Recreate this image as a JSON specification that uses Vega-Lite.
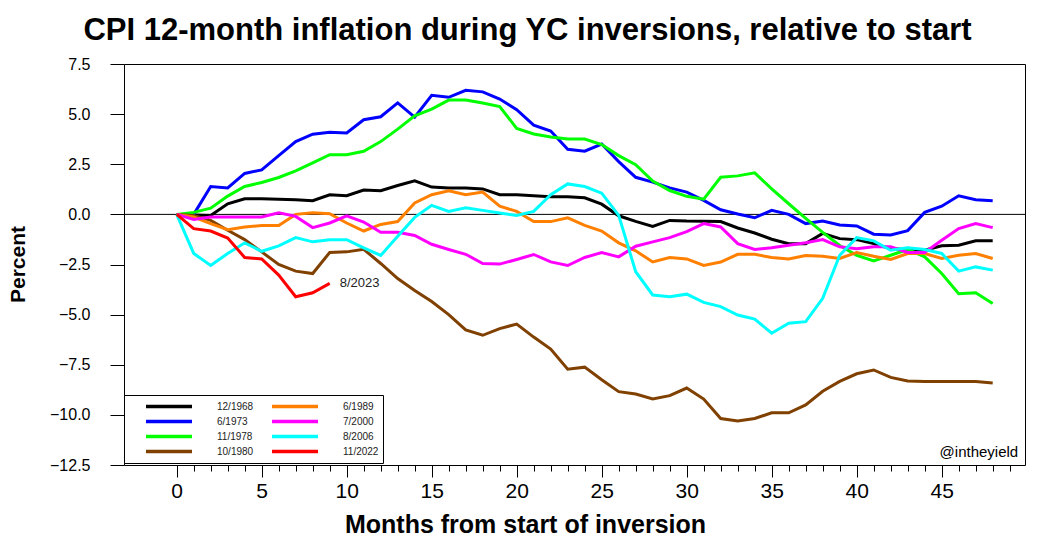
{
  "$schema": "https://vega.github.io/schema/vega-lite/v6.json",
  "width": 901,
  "height": 401,
  "autosize": {"type": "none"},
  "padding": {"left": 124, "top": 64, "right": 29, "bottom": 82},
  "background": "white",
  "config": {
    "font": "Liberation Sans",
    "view": {"stroke": "black", "strokeWidth": 1}
  },
  "title": {
    "text": "CPI 12-month inflation during YC inversions, relative to start",
    "font": "Liberation Sans",
    "fontSize": 31,
    "fontWeight": "bold",
    "color": "black",
    "anchor": "middle",
    "dx": -47,
    "baseline": "alphabetic",
    "offset": -15
  },
  "datasets": {
    "cpi": [
      {"s":"12/1968","m":0,"v":0},{"s":"12/1968","m":1,"v":-0.03},{"s":"12/1968","m":2,"v":-0.05},{"s":"12/1968","m":3,"v":0.53},{"s":"12/1968","m":4,"v":0.78},{"s":"12/1968","m":5,"v":0.78},{"s":"12/1968","m":6,"v":0.75},{"s":"12/1968","m":7,"v":0.73},{"s":"12/1968","m":8,"v":0.68},{"s":"12/1968","m":9,"v":0.98},{"s":"12/1968","m":10,"v":0.93},{"s":"12/1968","m":11,"v":1.21},{"s":"12/1968","m":12,"v":1.18},{"s":"12/1968","m":13,"v":1.44},{"s":"12/1968","m":14,"v":1.67},{"s":"12/1968","m":15,"v":1.36},{"s":"12/1968","m":16,"v":1.31},{"s":"12/1968","m":17,"v":1.31},{"s":"12/1968","m":18,"v":1.27},{"s":"12/1968","m":19,"v":0.98},{"s":"12/1968","m":20,"v":0.98},{"s":"12/1968","m":21,"v":0.93},{"s":"12/1968","m":22,"v":0.88},{"s":"12/1968","m":23,"v":0.88},{"s":"12/1968","m":24,"v":0.83},{"s":"12/1968","m":25,"v":0.51},{"s":"12/1968","m":26,"v":-0.07},{"s":"12/1968","m":27,"v":-0.35},{"s":"12/1968","m":28,"v":-0.6},{"s":"12/1968","m":29,"v":-0.3},{"s":"12/1968","m":30,"v":-0.33},{"s":"12/1968","m":31,"v":-0.34},{"s":"12/1968","m":32,"v":-0.36},{"s":"12/1968","m":33,"v":-0.68},{"s":"12/1968","m":34,"v":-0.93},{"s":"12/1968","m":35,"v":-1.24},{"s":"12/1968","m":36,"v":-1.46},{"s":"12/1968","m":37,"v":-1.46},{"s":"12/1968","m":38,"v":-0.95},{"s":"12/1968","m":39,"v":-1.21},{"s":"12/1968","m":40,"v":-1.26},{"s":"12/1968","m":41,"v":-1.46},{"s":"12/1968","m":42,"v":-1.71},{"s":"12/1968","m":43,"v":-1.75},{"s":"12/1968","m":44,"v":-1.79},{"s":"12/1968","m":45,"v":-1.57},{"s":"12/1968","m":46,"v":-1.54},{"s":"12/1968","m":47,"v":-1.32},{"s":"12/1968","m":48,"v":-1.32},
      {"s":"6/1973","m":0,"v":0},{"s":"6/1973","m":1,"v":0.0},{"s":"6/1973","m":2,"v":1.39},{"s":"6/1973","m":3,"v":1.32},{"s":"6/1973","m":4,"v":2.04},{"s":"6/1973","m":5,"v":2.22},{"s":"6/1973","m":6,"v":2.93},{"s":"6/1973","m":7,"v":3.63},{"s":"6/1973","m":8,"v":4.0},{"s":"6/1973","m":9,"v":4.1},{"s":"6/1973","m":10,"v":4.06},{"s":"6/1973","m":11,"v":4.72},{"s":"6/1973","m":12,"v":4.87},{"s":"6/1973","m":13,"v":5.56},{"s":"6/1973","m":14,"v":4.85},{"s":"6/1973","m":15,"v":5.94},{"s":"6/1973","m":16,"v":5.84},{"s":"6/1973","m":17,"v":6.19},{"s":"6/1973","m":18,"v":6.11},{"s":"6/1973","m":19,"v":5.75},{"s":"6/1973","m":20,"v":5.22},{"s":"6/1973","m":21,"v":4.45},{"s":"6/1973","m":22,"v":4.16},{"s":"6/1973","m":23,"v":3.25},{"s":"6/1973","m":24,"v":3.15},{"s":"6/1973","m":25,"v":3.51},{"s":"6/1973","m":26,"v":2.63},{"s":"6/1973","m":27,"v":1.85},{"s":"6/1973","m":28,"v":1.61},{"s":"6/1973","m":29,"v":1.32},{"s":"6/1973","m":30,"v":1.11},{"s":"6/1973","m":31,"v":0.7},{"s":"6/1973","m":32,"v":0.23},{"s":"6/1973","m":33,"v":0.02},{"s":"6/1973","m":34,"v":-0.17},{"s":"6/1973","m":35,"v":0.2},{"s":"6/1973","m":36,"v":0.0},{"s":"6/1973","m":37,"v":-0.46},{"s":"6/1973","m":38,"v":-0.33},{"s":"6/1973","m":39,"v":-0.53},{"s":"6/1973","m":40,"v":-0.58},{"s":"6/1973","m":41,"v":-0.99},{"s":"6/1973","m":42,"v":-1.03},{"s":"6/1973","m":43,"v":-0.81},{"s":"6/1973","m":44,"v":0.1},{"s":"6/1973","m":45,"v":0.41},{"s":"6/1973","m":46,"v":0.93},{"s":"6/1973","m":47,"v":0.73},{"s":"6/1973","m":48,"v":0.68},
      {"s":"11/1978","m":0,"v":0},{"s":"11/1978","m":1,"v":0.1},{"s":"11/1978","m":2,"v":0.31},{"s":"11/1978","m":3,"v":0.91},{"s":"11/1978","m":4,"v":1.39},{"s":"11/1978","m":5,"v":1.59},{"s":"11/1978","m":6,"v":1.84},{"s":"11/1978","m":7,"v":2.17},{"s":"11/1978","m":8,"v":2.57},{"s":"11/1978","m":9,"v":2.98},{"s":"11/1978","m":10,"v":2.98},{"s":"11/1978","m":11,"v":3.15},{"s":"11/1978","m":12,"v":3.63},{"s":"11/1978","m":13,"v":4.25},{"s":"11/1978","m":14,"v":4.92},{"s":"11/1978","m":15,"v":5.25},{"s":"11/1978","m":16,"v":5.7},{"s":"11/1978","m":17,"v":5.7},{"s":"11/1978","m":18,"v":5.55},{"s":"11/1978","m":19,"v":5.38},{"s":"11/1978","m":20,"v":4.29},{"s":"11/1978","m":21,"v":4.01},{"s":"11/1978","m":22,"v":3.86},{"s":"11/1978","m":23,"v":3.76},{"s":"11/1978","m":24,"v":3.76},{"s":"11/1978","m":25,"v":3.48},{"s":"11/1978","m":26,"v":2.93},{"s":"11/1978","m":27,"v":2.48},{"s":"11/1978","m":28,"v":1.66},{"s":"11/1978","m":29,"v":1.19},{"s":"11/1978","m":30,"v":0.9},{"s":"11/1978","m":31,"v":0.76},{"s":"11/1978","m":32,"v":1.85},{"s":"11/1978","m":33,"v":1.92},{"s":"11/1978","m":34,"v":2.07},{"s":"11/1978","m":35,"v":1.27},{"s":"11/1978","m":36,"v":0.53},{"s":"11/1978","m":37,"v":-0.2},{"s":"11/1978","m":38,"v":-0.9},{"s":"11/1978","m":39,"v":-1.55},{"s":"11/1978","m":40,"v":-2.04},{"s":"11/1978","m":41,"v":-2.32},{"s":"11/1978","m":42,"v":-2.04},{"s":"11/1978","m":43,"v":-1.75},{"s":"11/1978","m":44,"v":-2.12},{"s":"11/1978","m":45,"v":-2.95},{"s":"11/1978","m":46,"v":-3.96},{"s":"11/1978","m":47,"v":-3.91},{"s":"11/1978","m":48,"v":-4.44},
      {"s":"10/1980","m":0,"v":0},{"s":"10/1980","m":1,"v":-0.05},{"s":"10/1980","m":2,"v":-0.3},{"s":"10/1980","m":3,"v":-0.79},{"s":"10/1980","m":4,"v":-1.26},{"s":"10/1980","m":5,"v":-1.87},{"s":"10/1980","m":6,"v":-2.5},{"s":"10/1980","m":7,"v":-2.83},{"s":"10/1980","m":8,"v":-2.95},{"s":"10/1980","m":9,"v":-1.9},{"s":"10/1980","m":10,"v":-1.87},{"s":"10/1980","m":11,"v":-1.74},{"s":"10/1980","m":12,"v":-2.45},{"s":"10/1980","m":13,"v":-3.2},{"s":"10/1980","m":14,"v":-3.8},{"s":"10/1980","m":15,"v":-4.35},{"s":"10/1980","m":16,"v":-5.0},{"s":"10/1980","m":17,"v":-5.76},{"s":"10/1980","m":18,"v":-6.03},{"s":"10/1980","m":19,"v":-5.7},{"s":"10/1980","m":20,"v":-5.47},{"s":"10/1980","m":21,"v":-6.12},{"s":"10/1980","m":22,"v":-6.72},{"s":"10/1980","m":23,"v":-7.72},{"s":"10/1980","m":24,"v":-7.62},{"s":"10/1980","m":25,"v":-8.25},{"s":"10/1980","m":26,"v":-8.84},{"s":"10/1980","m":27,"v":-8.96},{"s":"10/1980","m":28,"v":-9.21},{"s":"10/1980","m":29,"v":-9.04},{"s":"10/1980","m":30,"v":-8.66},{"s":"10/1980","m":31,"v":-9.21},{"s":"10/1980","m":32,"v":-10.18},{"s":"10/1980","m":33,"v":-10.31},{"s":"10/1980","m":34,"v":-10.18},{"s":"10/1980","m":35,"v":-9.9},{"s":"10/1980","m":36,"v":-9.9},{"s":"10/1980","m":37,"v":-9.5},{"s":"10/1980","m":38,"v":-8.82},{"s":"10/1980","m":39,"v":-8.33},{"s":"10/1980","m":40,"v":-7.95},{"s":"10/1980","m":41,"v":-7.76},{"s":"10/1980","m":42,"v":-8.13},{"s":"10/1980","m":43,"v":-8.31},{"s":"10/1980","m":44,"v":-8.34},{"s":"10/1980","m":45,"v":-8.34},{"s":"10/1980","m":46,"v":-8.34},{"s":"10/1980","m":47,"v":-8.34},{"s":"10/1980","m":48,"v":-8.41},
      {"s":"6/1989","m":0,"v":0},{"s":"6/1989","m":1,"v":-0.13},{"s":"6/1989","m":2,"v":-0.46},{"s":"6/1989","m":3,"v":-0.76},{"s":"6/1989","m":4,"v":-0.63},{"s":"6/1989","m":5,"v":-0.56},{"s":"6/1989","m":6,"v":-0.56},{"s":"6/1989","m":7,"v":0.0},{"s":"6/1989","m":8,"v":0.08},{"s":"6/1989","m":9,"v":0.03},{"s":"6/1989","m":10,"v":-0.43},{"s":"6/1989","m":11,"v":-0.83},{"s":"6/1989","m":12,"v":-0.5},{"s":"6/1989","m":13,"v":-0.36},{"s":"6/1989","m":14,"v":0.57},{"s":"6/1989","m":15,"v":0.98},{"s":"6/1989","m":16,"v":1.18},{"s":"6/1989","m":17,"v":0.98},{"s":"6/1989","m":18,"v":1.11},{"s":"6/1989","m":19,"v":0.41},{"s":"6/1989","m":20,"v":0.15},{"s":"6/1989","m":21,"v":-0.36},{"s":"6/1989","m":22,"v":-0.36},{"s":"6/1989","m":23,"v":-0.17},{"s":"6/1989","m":24,"v":-0.55},{"s":"6/1989","m":25,"v":-0.83},{"s":"6/1989","m":26,"v":-1.42},{"s":"6/1989","m":27,"v":-1.82},{"s":"6/1989","m":28,"v":-2.37},{"s":"6/1989","m":29,"v":-2.15},{"s":"6/1989","m":30,"v":-2.22},{"s":"6/1989","m":31,"v":-2.55},{"s":"6/1989","m":32,"v":-2.38},{"s":"6/1989","m":33,"v":-1.99},{"s":"6/1989","m":34,"v":-1.99},{"s":"6/1989","m":35,"v":-2.15},{"s":"6/1989","m":36,"v":-2.22},{"s":"6/1989","m":37,"v":-2.05},{"s":"6/1989","m":38,"v":-2.09},{"s":"6/1989","m":39,"v":-2.2},{"s":"6/1989","m":40,"v":-1.9},{"s":"6/1989","m":41,"v":-2.09},{"s":"6/1989","m":42,"v":-2.25},{"s":"6/1989","m":43,"v":-1.95},{"s":"6/1989","m":44,"v":-1.95},{"s":"6/1989","m":45,"v":-2.2},{"s":"6/1989","m":46,"v":-2.04},{"s":"6/1989","m":47,"v":-1.95},{"s":"6/1989","m":48,"v":-2.2},
      {"s":"7/2000","m":0,"v":0},{"s":"7/2000","m":1,"v":-0.25},{"s":"7/2000","m":2,"v":-0.13},{"s":"7/2000","m":3,"v":-0.13},{"s":"7/2000","m":4,"v":-0.13},{"s":"7/2000","m":5,"v":-0.13},{"s":"7/2000","m":6,"v":0.08},{"s":"7/2000","m":7,"v":-0.1},{"s":"7/2000","m":8,"v":-0.66},{"s":"7/2000","m":9,"v":-0.43},{"s":"7/2000","m":10,"v":-0.07},{"s":"7/2000","m":11,"v":-0.38},{"s":"7/2000","m":12,"v":-0.89},{"s":"7/2000","m":13,"v":-0.89},{"s":"7/2000","m":14,"v":-1.05},{"s":"7/2000","m":15,"v":-1.49},{"s":"7/2000","m":16,"v":-1.75},{"s":"7/2000","m":17,"v":-1.99},{"s":"7/2000","m":18,"v":-2.45},{"s":"7/2000","m":19,"v":-2.48},{"s":"7/2000","m":20,"v":-2.25},{"s":"7/2000","m":21,"v":-2.0},{"s":"7/2000","m":22,"v":-2.37},{"s":"7/2000","m":23,"v":-2.55},{"s":"7/2000","m":24,"v":-2.15},{"s":"7/2000","m":25,"v":-1.9},{"s":"7/2000","m":26,"v":-2.12},{"s":"7/2000","m":27,"v":-1.59},{"s":"7/2000","m":28,"v":-1.37},{"s":"7/2000","m":29,"v":-1.16},{"s":"7/2000","m":30,"v":-0.86},{"s":"7/2000","m":31,"v":-0.46},{"s":"7/2000","m":32,"v":-0.63},{"s":"7/2000","m":33,"v":-1.46},{"s":"7/2000","m":34,"v":-1.75},{"s":"7/2000","m":35,"v":-1.66},{"s":"7/2000","m":36,"v":-1.54},{"s":"7/2000","m":37,"v":-1.42},{"s":"7/2000","m":38,"v":-1.26},{"s":"7/2000","m":39,"v":-1.62},{"s":"7/2000","m":40,"v":-1.71},{"s":"7/2000","m":41,"v":-1.62},{"s":"7/2000","m":42,"v":-1.62},{"s":"7/2000","m":43,"v":-1.9},{"s":"7/2000","m":44,"v":-1.9},{"s":"7/2000","m":45,"v":-1.29},{"s":"7/2000","m":46,"v":-0.71},{"s":"7/2000","m":47,"v":-0.46},{"s":"7/2000","m":48,"v":-0.66},
      {"s":"8/2006","m":0,"v":0},{"s":"8/2006","m":1,"v":-1.95},{"s":"8/2006","m":2,"v":-2.55},{"s":"8/2006","m":3,"v":-1.95},{"s":"8/2006","m":4,"v":-1.42},{"s":"8/2006","m":5,"v":-1.84},{"s":"8/2006","m":6,"v":-1.57},{"s":"8/2006","m":7,"v":-1.16},{"s":"8/2006","m":8,"v":-1.37},{"s":"8/2006","m":9,"v":-1.26},{"s":"8/2006","m":10,"v":-1.26},{"s":"8/2006","m":11,"v":-1.67},{"s":"8/2006","m":12,"v":-2.05},{"s":"8/2006","m":13,"v":-1.09},{"s":"8/2006","m":14,"v":-0.15},{"s":"8/2006","m":15,"v":0.45},{"s":"8/2006","m":16,"v":0.15},{"s":"8/2006","m":17,"v":0.33},{"s":"8/2006","m":18,"v":0.2},{"s":"8/2006","m":19,"v":0.07},{"s":"8/2006","m":20,"v":-0.05},{"s":"8/2006","m":21,"v":0.15},{"s":"8/2006","m":22,"v":0.98},{"s":"8/2006","m":23,"v":1.52},{"s":"8/2006","m":24,"v":1.39},{"s":"8/2006","m":25,"v":1.06},{"s":"8/2006","m":26,"v":-0.05},{"s":"8/2006","m":27,"v":-2.86},{"s":"8/2006","m":28,"v":-4.02},{"s":"8/2006","m":29,"v":-4.11},{"s":"8/2006","m":30,"v":-3.98},{"s":"8/2006","m":31,"v":-4.39},{"s":"8/2006","m":32,"v":-4.6},{"s":"8/2006","m":33,"v":-5.02},{"s":"8/2006","m":34,"v":-5.22},{"s":"8/2006","m":35,"v":-5.93},{"s":"8/2006","m":36,"v":-5.43},{"s":"8/2006","m":37,"v":-5.35},{"s":"8/2006","m":38,"v":-4.19},{"s":"8/2006","m":39,"v":-2.04},{"s":"8/2006","m":40,"v":-1.16},{"s":"8/2006","m":41,"v":-1.32},{"s":"8/2006","m":42,"v":-1.79},{"s":"8/2006","m":43,"v":-1.66},{"s":"8/2006","m":44,"v":-1.75},{"s":"8/2006","m":45,"v":-1.95},{"s":"8/2006","m":46,"v":-2.83},{"s":"8/2006","m":47,"v":-2.62},{"s":"8/2006","m":48,"v":-2.78},
      {"s":"11/2022","m":0,"v":0},{"s":"11/2022","m":1,"v":-0.71},{"s":"11/2022","m":2,"v":-0.83},{"s":"11/2022","m":3,"v":-1.18},{"s":"11/2022","m":4,"v":-2.15},{"s":"11/2022","m":5,"v":-2.22},{"s":"11/2022","m":6,"v":-3.03},{"s":"11/2022","m":7,"v":-4.11},{"s":"11/2022","m":8,"v":-3.91},{"s":"11/2022","m":9,"v":-3.44}
    ]
  },
  "layer": [
    {
      "data": {"values": [{"zero": 0}]},
      "mark": {"type": "rule", "color": "black", "strokeWidth": 1},
      "encoding": {"y": {"field": "zero", "type": "quantitative"}}
    },
    {
      "data": {"name": "cpi"},
      "mark": {"type": "line", "strokeWidth": 3},
      "encoding": {
        "x": {
          "field": "m", "type": "quantitative",
          "scale": {"domain": [-3.1, 49.9], "nice": false, "zero": false},
          "axis": {
            "orient": "bottom",
            "values": [0,1,2,3,4,5,6,7,8,9,10,11,12,13,14,15,16,17,18,19,20,21,22,23,24,25,26,27,28,29,30,31,32,33,34,35,36,37,38,39,40,41,42,43,44,45,46,47,48,49],
            "format": "d",
            "labelExpr": "datum.value % 5 === 0 ? datum.label : ''",
            "tickSize": {"condition": {"test": "datum.value % 5 === 0", "value": 12}, "value": 6},
            "tickColor": "black",
            "grid": false,
            "domain": false,
            "labelFont": "Liberation Sans",
            "labelFontSize": 21,
            "labelColor": "black",
            "labelPadding": 3,
            "labelOverlap": false,
            "labelFlush": false,
            "labelBound": false,
            "title": "Months from start of inversion",
            "titleFont": "Liberation Sans",
            "titleFontSize": 25,
            "titleFontWeight": "bold",
            "titleColor": "black",
            "titleX": 401,
            "titleY": 67,
            "titleAlign": "center",
            "titleBaseline": "alphabetic"
          }
        },
        "y": {
          "field": "v", "type": "quantitative",
          "scale": {"domain": [-12.5, 7.5], "nice": false, "zero": false},
          "axis": {
            "values": [-12.5, -10, -7.5, -5, -2.5, 0, 2.5, 5, 7.5],
            "format": ".1f",
            "tickSize": 14,
            "tickColor": "black",
            "grid": false,
            "domain": false,
            "labelFont": "Liberation Sans",
            "labelFontSize": 16,
            "labelColor": "black",
            "labelPadding": 20,
            "labelOverlap": false,
            "labelFlush": false,
            "title": "Percent",
            "titleFont": "Liberation Sans",
            "titleFontSize": 21,
            "titleFontWeight": "bold",
            "titleColor": "black",
            "titleAngle": 270,
            "titleX": -106,
            "titleY": 200,
            "titleAlign": "center",
            "titleBaseline": "middle"
          }
        },
        "color": {
          "field": "s", "type": "nominal",
          "scale": {
            "domain": ["12/1968", "6/1973", "11/1978", "10/1980", "6/1989", "7/2000", "8/2006", "11/2022"],
            "range": ["#000000", "#0000FF", "#00FF00", "#804000", "#FF8000", "#FF00FF", "#00FFFF", "#FF0000"]
          },
          "legend": {
            "orient": "none",
            "legendX": 0,
            "legendY": 331,
            "columns": 2,
            "direction": "vertical",
            "title": null,
            "strokeColor": "black",
            "fillColor": "white",
            "padding": 4,
            "symbolType": "stroke",
            "symbolSize": 2116,
            "symbolStrokeWidth": 3.5,
            "symbolOffset": 16,
            "labelOffset": 23,
            "columnPadding": 0,
            "rowPadding": 0,
            "clipHeight": 15,
            "labelFont": "Liberation Sans",
            "labelFontSize": 10,
            "labelColor": "#222222"
          }
        }
      }
    },
    {
      "data": {"name": "cpi"},
      "transform": [{"filter": "datum.s === '11/2022' && datum.m === 9"}],
      "mark": {"type": "text", "align": "left", "baseline": "middle", "dx": 10, "fontSize": 13, "font": "Liberation Sans", "color": "#222222"},
      "encoding": {
        "x": {
          "field": "m", "type": "quantitative",
          "axis": {
            "orient": "bottom",
            "values": [0,1,2,3,4,5,6,7,8,9,10,11,12,13,14,15,16,17,18,19,20,21,22,23,24,25,26,27,28,29,30,31,32,33,34,35,36,37,38,39,40,41,42,43,44,45,46,47,48,49],
            "format": "d",
            "labelExpr": "datum.value % 5 === 0 ? datum.label : ''",
            "tickSize": {"condition": {"test": "datum.value % 5 === 0", "value": 12}, "value": 6},
            "tickColor": "black",
            "grid": false,
            "domain": false,
            "labelFont": "Liberation Sans",
            "labelFontSize": 21,
            "labelColor": "black",
            "labelPadding": 3,
            "labelOverlap": false,
            "labelFlush": false,
            "labelBound": false,
            "title": "Months from start of inversion",
            "titleFont": "Liberation Sans",
            "titleFontSize": 25,
            "titleFontWeight": "bold",
            "titleColor": "black",
            "titleX": 401,
            "titleY": 67,
            "titleAlign": "center",
            "titleBaseline": "alphabetic"
          }
        },
        "y": {"field": "v", "type": "quantitative"},
        "text": {"value": "8/2023"}
      }
    },
    {
      "data": {"values": [{"label": "@intheyield", "px": 49.5, "py": -11.87}]},
      "mark": {"type": "text", "align": "right", "baseline": "middle", "fontSize": 15, "font": "Liberation Sans", "color": "black"},
      "encoding": {
        "x": {
          "field": "px", "type": "quantitative",
          "axis": {
            "orient": "bottom",
            "values": [0,1,2,3,4,5,6,7,8,9,10,11,12,13,14,15,16,17,18,19,20,21,22,23,24,25,26,27,28,29,30,31,32,33,34,35,36,37,38,39,40,41,42,43,44,45,46,47,48,49],
            "format": "d",
            "labelExpr": "datum.value % 5 === 0 ? datum.label : ''",
            "tickSize": {"condition": {"test": "datum.value % 5 === 0", "value": 12}, "value": 6},
            "tickColor": "black",
            "grid": false,
            "domain": false,
            "labelFont": "Liberation Sans",
            "labelFontSize": 21,
            "labelColor": "black",
            "labelPadding": 3,
            "labelOverlap": false,
            "labelFlush": false,
            "labelBound": false,
            "title": "Months from start of inversion",
            "titleFont": "Liberation Sans",
            "titleFontSize": 25,
            "titleFontWeight": "bold",
            "titleColor": "black",
            "titleX": 401,
            "titleY": 67,
            "titleAlign": "center",
            "titleBaseline": "alphabetic"
          }
        },
        "y": {"field": "py", "type": "quantitative"},
        "text": {"field": "label"}
      }
    }
  ]
}
